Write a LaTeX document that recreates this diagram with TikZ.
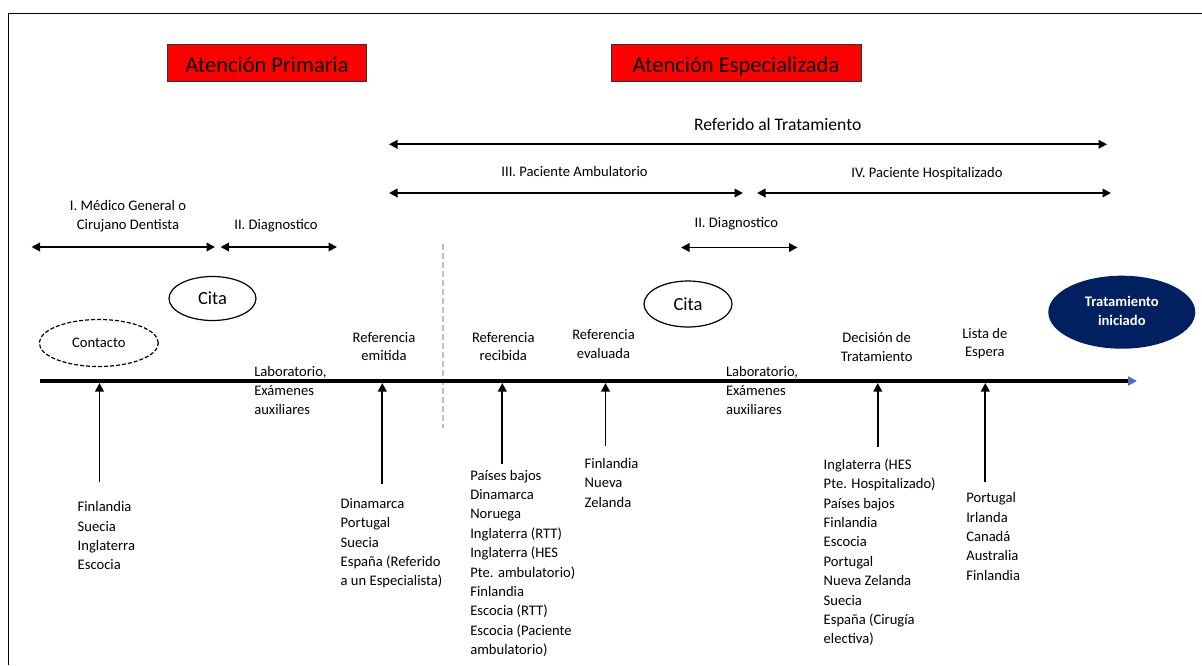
\documentclass[tikz,border=0pt]{standalone}
\usepackage{fontspec}
\setmainfont{Carlito}
\usetikzlibrary{arrows.meta,shapes.geometric}
\definecolor{titlered}{HTML}{FF0000}
\definecolor{navyfill}{HTML}{002060}
\definecolor{tipblue}{HTML}{4472C4}
% multi-line text blocks whose baseline is that of their first line
\newcommand{\stackl}[1]{\begin{tabular}[t]{@{}l@{}}#1\end{tabular}}
\newcommand{\stackc}[1]{\begin{tabular}[t]{@{}c@{}}#1\end{tabular}}

\begin{document}
\begin{tikzpicture}[x=1pt,y=-1pt,
  every node/.style={inner sep=0pt, outer sep=0pt},
  labeltxt/.style={font=\fontsize{14.6}{18.5}\selectfont, anchor=base},
  listtxt/.style={font=\fontsize{14.6}{19.4}\selectfont, anchor=base west},
  titlebox/.style={draw=black!80, line width=1pt, fill=titlered,
    font=\fontsize{22.5}{27}\selectfont, text height=20pt, text depth=0pt,
    minimum height=37pt},
  span/.style={line width=1.9pt,
    {Triangle[length=8.5pt,width=8.5pt]}-{Triangle[length=8.5pt,width=8.5pt]}},
  uparrow/.style={line width=1.9pt, -{Triangle[length=8.5pt,width=8.5pt]}},
  bubble/.style={ellipse, draw, line width=1.2pt,
    font=\fontsize{18.5}{22}\selectfont},
]
\useasboundingbox (0,0) rectangle (1202,665);

% outer frame
\draw[line width=1.5pt] (1202,13.5) -- (8.5,13.5) -- (8.5,665);

% section titles
\node[titlebox, minimum width=199pt] (primaria) at (267,62.7) {Atención Primaria};
\node[titlebox, minimum width=250pt] (especial) at (736,62.7) {Atención Especializada};

% spans
\coordinate (refA) at (389,144.3);  \coordinate (refB) at (1107,144.3);
\coordinate (ambA) at (389,193);    \coordinate (ambB) at (743,193);
\coordinate (hosA) at (757,193);    \coordinate (hosB) at (1111,193);
\coordinate (medA) at (31.5,247);   \coordinate (medB) at (215,247);
\coordinate (dgLA) at (220.5,247);  \coordinate (dgLB) at (337,247);
\coordinate (dgRA) at (681,247.5);  \coordinate (dgRB) at (797.5,247.5);
\draw[span] (refA) -- (refB);
\draw[span] (ambA) -- (ambB);
\draw[span] (hosA) -- (hosB);
\draw[span] (medA) -- (medB);
\draw[span] (dgLA) -- (dgLB);
\draw[span] (dgRA) -- (dgRB);

\node[anchor=base, font=\fontsize{17.6}{21}\selectfont] (refl) at (777.7,130.7) {Referido al Tratamiento};
\node[labeltxt] (ambl) at (574.5,176) {III. Paciente Ambulatorio};
\node[labeltxt] (hosl) at (927,177.7) {IV. Paciente Hospitalizado};
\node[labeltxt] (medl) at (128,210.7) {\stackc{I. Médico General o\\Cirujano Dentista}};
\node[labeltxt] (dgLl) at (276,229.3) {II. Diagnostico};
\node[labeltxt] (dgRl) at (736.3,227.7) {II. Diagnostico};

% boundary between primary and specialised care
\coordinate (divA) at (443,244);
\coordinate (divB) at (443,428);
\draw[black!25, line width=2.5pt, dash pattern=on 6pt off 3pt] (divA) -- (divB);

% bubbles
\node[bubble, minimum width=87pt, minimum height=44pt] (cita1) at (212.5,298.5) {Cita};
\node[bubble, minimum width=88pt, minimum height=46pt] (cita2) at (688,304) {Cita};
\node[ellipse, draw, line width=1.2pt, dash pattern=on 4pt off 2pt,
  minimum width=119pt, minimum height=47pt,
  font=\fontsize{14.6}{18}\selectfont] (contacto) at (98.8,343) {Contacto};
\node[ellipse, fill=navyfill, minimum width=147pt, minimum height=73pt,
  text=white, font=\bfseries\fontsize{14.6}{18.4}\selectfont] (inicio) at (1121.8,312.2)
  {\stackc{Tratamiento\\iniciado}};

% time line
\coordinate (tl0) at (40,381);
\coordinate (tl1) at (1137,381);
\draw[line width=3.3pt, -{Triangle[length=9pt,width=9pt,color=tipblue]}] (tl0) -- (tl1);

% milestone labels
\node[labeltxt] (emit) at (384,342) {\stackc{Referencia\\emitida}};
\node[labeltxt] (recib) at (503.3,342) {\stackc{Referencia\\recibida}};
\node[labeltxt] (evalu) at (603.5,339.5) {\stackc{Referencia\\evaluada}};
\node[labeltxt] (decis) at (876.7,342.7) {\stackc{Decisión de\\Tratamiento}};
\node[labeltxt] (lista) at (984.8,338.3) {\stackc{Lista de\\Espera}};
\node[listtxt] (lab1) at (254.3,376) {\stackl{Laboratorio,\\Exámenes\\auxiliares}};
\node[listtxt] (lab2) at (726,376) {\stackl{Laboratorio,\\Exámenes\\auxiliares}};

% arrows from country groups up to the time line
\coordinate (u1b) at (99.5,482);   \coordinate (u1t) at (99.5,383);
\coordinate (u2b) at (382.3,483.5);\coordinate (u2t) at (382.3,383);
\coordinate (u3b) at (502.3,463.5);\coordinate (u3t) at (502.3,383);
\coordinate (u4b) at (605.5,446);  \coordinate (u4t) at (605.5,383);
\coordinate (u5b) at (877.8,447);  \coordinate (u5t) at (877.8,383);
\coordinate (u6b) at (985.3,482);  \coordinate (u6t) at (985.3,383);
\foreach \k in {1,...,6} \draw[uparrow] (u\k b) -- (u\k t);

% country groups
\node[listtxt] (g1) at (77.7,511.7) {\stackl{Finlandia\\Suecia\\Inglaterra\\Escocia}};
\node[listtxt] (g2) at (340.7,508.3) {\stackl{Dinamarca\\Portugal\\Suecia\\España (Referido\\a un Especialista)}};
\node[listtxt] (g3) at (470.3,480) {\stackl{Países bajos\\Dinamarca\\Noruega\\Inglaterra (RTT)\\Inglaterra (HES\\Pte. ambulatorio)\\Finlandia\\Escocia (RTT)\\Escocia (Paciente\\ambulatorio)}};
\node[listtxt] (g4) at (584.7,468.3) {\stackl{Finlandia\\Nueva\\Zelanda}};
\node[listtxt] (g5) at (823.7,469.3) {\stackl{Inglaterra (HES\\Pte. Hospitalizado)\\Países bajos\\Finlandia\\Escocia\\Portugal\\Nueva Zelanda\\Suecia\\España (Cirugía\\electiva)}};
\node[listtxt] (g6) at (966.3,502.7) {\stackl{Portugal\\Irlanda\\Canadá\\Australia\\Finlandia}};
\end{tikzpicture}
\end{document}
